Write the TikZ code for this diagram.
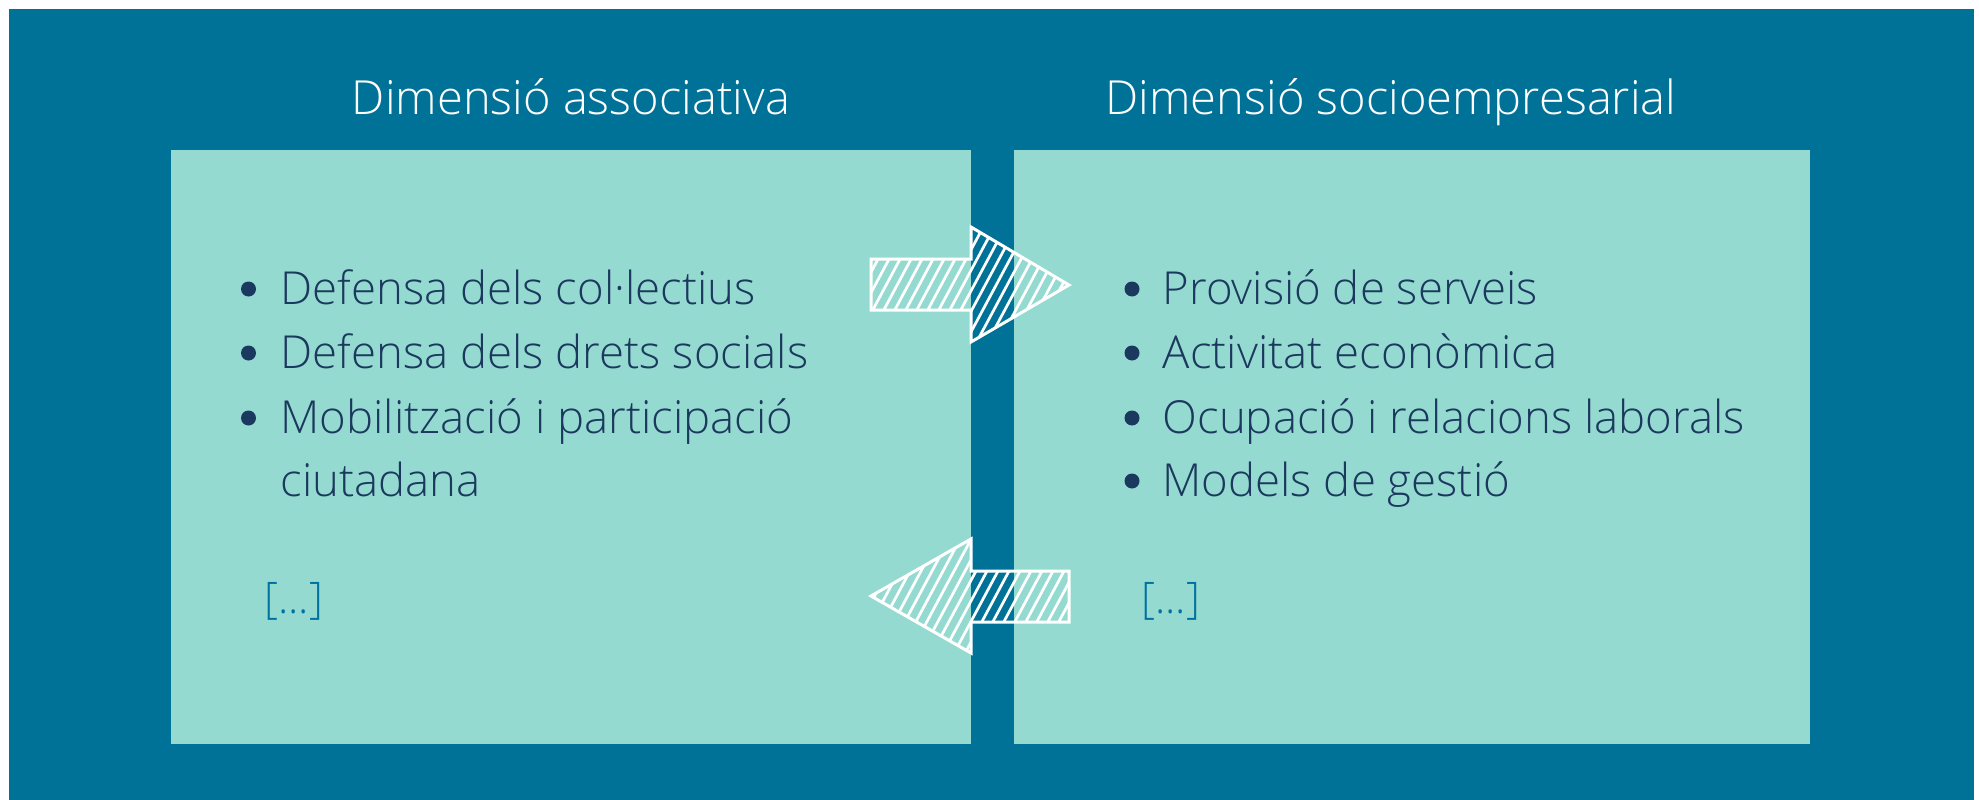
\documentclass[tikz,border=0pt]{standalone}
\usepackage{fontspec}
\setmainfont{Open Sans Light}
\definecolor{bgdark}{RGB}{0,114,152}
\definecolor{boxlight}{RGB}{149,218,208}
\definecolor{navy}{RGB}{27,57,94}
\definecolor{brk}{RGB}{0,114,160}
\tikzset{
  panel/.style={fill=boxlight, draw=none, anchor=north west, inner sep=0pt, minimum height=594pt},
  titletext/.style={text=white, anchor=base, inner sep=0pt, font=\fontsize{47}{56}\selectfont},
  itemtext/.style={text=navy, anchor=base west, inner sep=0pt, font=\fontsize{45.5}{54}\selectfont},
  etctext/.style={text=brk, anchor=base west, inner sep=0pt, font=\fontsize{43.5}{52}\selectfont},
  dot/.style={circle, fill=navy, inner sep=0pt, minimum size=15pt},
  hatchline/.style={white, line width=2.7pt},
  arrowoutline/.style={white, line width=3pt, line join=miter},
}
\begin{document}
\begin{tikzpicture}[x=1pt,y=-1pt]
\useasboundingbox (0,0) rectangle (1979,800);
\fill[bgdark] (9,9) rectangle (1974,800);
% panels
\node[panel, minimum width=800pt] (assoc) at (171,150) {};
\node[panel, minimum width=796pt] (socio) at (1014,150) {};
% titles
\node[titletext] (t1) at (571,114) {Dimensió associativa};
\node[titletext] (t2) at (1391,114) {Dimensió socioempresarial};
% left list
\node[dot] (lb1) at (248.5,289) {};
\node[dot] (lb2) at (248.5,353) {};
\node[dot] (lb3) at (248.5,418) {};
\node[itemtext] (l1) at (280.5,304) {Defensa dels col·lectius};
\node[itemtext] (l2) at (280.5,368) {Defensa dels drets socials};
\node[itemtext] (l3) at (280.5,433) {Mobilització i participació};
\node[itemtext] (l4) at (280.5,496) {ciutadana};
\node[etctext] (le) at (264,613) {[...]};
% right list
\node[dot] (rb1) at (1132,289) {};
\node[dot] (rb2) at (1132,353) {};
\node[dot] (rb3) at (1132,418) {};
\node[dot] (rb4) at (1132,481) {};
\node[itemtext] (r1) at (1162.5,304) {Provisió de serveis};
\node[itemtext] (r2) at (1162.5,368) {Activitat econòmica};
\node[itemtext] (r3) at (1162.5,433) {Ocupació i relacions laborals};
\node[itemtext] (r4) at (1162.5,496) {Models de gestió};
\node[etctext] (re) at (1141,613) {[...]};
% top arrow (associativa -> socioempresarial)
\begin{scope}
  \clip (871,259) -- (971,259) -- (971,227) -- (1069,285) -- (971,342) -- (971,310) -- (871,310) -- cycle;
  \foreach \a in {780,791,...,1100} {
    \draw[hatchline] (\a,360) -- (\a+75,220);
  }
\end{scope}
\draw[arrowoutline] (871,259) -- (971,259) -- (971,227) -- (1069,285) -- (971,342) -- (971,310) -- (871,310) -- cycle;
% bottom arrow (socioempresarial -> associativa)
\begin{scope}
  \clip (1069,571) -- (971,571) -- (971,539) -- (871,596) -- (971,653) -- (971,622) -- (1069,622) -- cycle;
  \foreach \a in {780,791,...,1100} {
    \draw[hatchline] (\a,670) -- (\a+75,530);
  }
\end{scope}
\draw[arrowoutline] (1069,571) -- (971,571) -- (971,539) -- (871,596) -- (971,653) -- (971,622) -- (1069,622) -- cycle;
\end{tikzpicture}
\end{document}
